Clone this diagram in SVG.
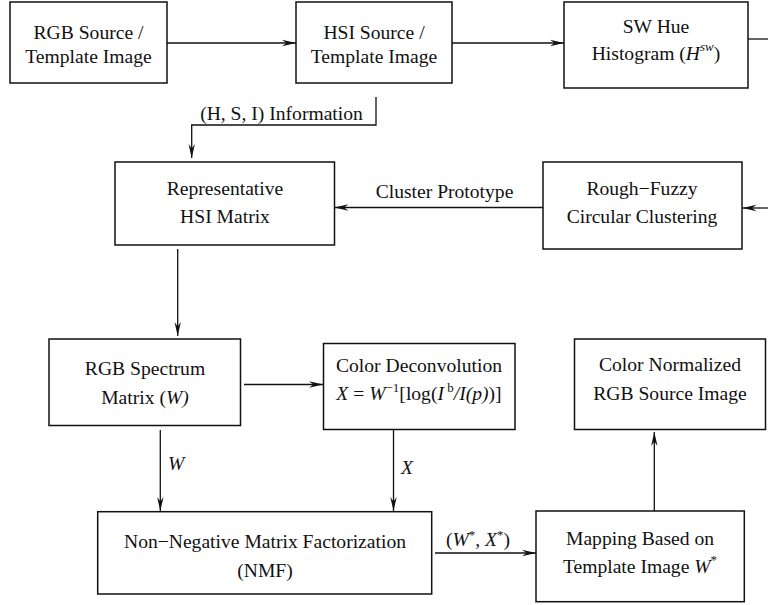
<svg xmlns="http://www.w3.org/2000/svg" width="768" height="605" viewBox="0 0 768 605">
<style>
.box{fill:#fff;stroke:#111;stroke-width:1.5}
.con{fill:none;stroke:#111;stroke-width:1.3}
text{font-family:"Liberation Serif","Times New Roman",serif;font-size:19.6px;fill:#111}
.c{text-anchor:middle}
.i{font-style:italic}
.s{font-size:13px}
</style>
<defs>
<marker id="ah" markerUnits="userSpaceOnUse" viewBox="-14 -4 15 8" markerWidth="15" markerHeight="8" refX="0" refY="0" orient="auto">
<path d="M0,0 L-14,-3.2 L-9.5,0 L-14,3.2 Z" fill="#111"/>
</marker>
</defs>
<rect width="768" height="605" fill="#fff"/>
<g id="connectors">
<path class="con" d="M167,43 H296" marker-end="url(#ah)"/>
<path class="con" d="M452,43 H564" marker-end="url(#ah)"/>
<path class="con" d="M748,39 H768"/>
<path class="con" d="M768,208 H742.5" marker-end="url(#ah)"/>
<path class="con" d="M543,207.5 H334.5" marker-end="url(#ah)"/>
<path class="con" d="M376,97 V125 H191.7 V158" marker-end="url(#ah)"/>
<path class="con" d="M177.7,249 V336" marker-end="url(#ah)"/>
<path class="con" d="M244,384.5 H323" marker-end="url(#ah)"/>
<path class="con" d="M160.3,430 V511" marker-end="url(#ah)"/>
<path class="con" d="M393.5,430 V511" marker-end="url(#ah)"/>
<path class="con" d="M435,553 H536" marker-end="url(#ah)"/>
<path class="con" d="M654.3,511 V432" marker-end="url(#ah)"/>
<text class="c" x="281.5" y="120">(H, S, I) Information</text>
<text class="c" x="444.5" y="198">Cluster Prototype</text>
<text class="i" x="168" y="470">W</text>
<text class="i" x="401" y="474">X</text>
<text class="c" x="478" y="546">(<tspan class="i">W</tspan><tspan class="s" dy="-7">*</tspan><tspan dy="7">, </tspan><tspan class="i">X</tspan><tspan class="s" dy="-7">*</tspan><tspan dy="7">)</tspan></text>
</g>
<g id="rgb-source">
<rect class="box" x="10" y="2" width="157" height="81"/>
<text class="c" x="88.5" y="39">RGB Source /</text>
<text class="c" x="88.5" y="63">Template Image</text>
</g>
<g id="hsi-source">
<rect class="box" x="296" y="2" width="156" height="81"/>
<text class="c" x="374" y="39">HSI Source /</text>
<text class="c" x="374" y="63">Template Image</text>
</g>
<g id="sw-hue">
<rect class="box" x="564" y="2" width="184" height="86"/>
<text class="c" x="656" y="33">SW Hue</text>
<text class="c" x="656" y="60">Histogram (<tspan class="i">H</tspan><tspan class="i s" dy="-9">sw</tspan><tspan dy="9">)</tspan></text>
</g>
<g id="representative">
<rect class="box" x="115" y="162" width="219.5" height="83"/>
<text class="c" x="225" y="195">Representative</text>
<text class="c" x="225" y="223">HSI Matrix</text>
</g>
<g id="rough-fuzzy">
<rect class="box" x="543" y="162" width="199" height="87"/>
<text class="c" x="642" y="195">Rough−Fuzzy</text>
<text class="c" x="642" y="223">Circular Clustering</text>
</g>
<g id="rgb-spectrum">
<rect class="box" x="49" y="339" width="191.5" height="86.5"/>
<text class="c" x="145" y="375">RGB Spectrum</text>
<text class="c" x="145" y="404">Matrix (<tspan class="i">W)</tspan></text>
</g>
<g id="color-deconvolution">
<rect class="box" x="323.5" y="343.5" width="191.5" height="86"/>
<text class="c" x="419" y="372">Color Deconvolution</text>
<text class="c" x="419" y="400"><tspan class="i">X</tspan> = <tspan class="i">W</tspan><tspan class="s" dy="-8">−1</tspan><tspan dy="8">[log(</tspan><tspan class="i">I</tspan><tspan class="s" dy="-8"> b</tspan><tspan class="i" dy="8">/I(p)</tspan>)]</text>
</g>
<g id="color-normalized">
<rect class="box" x="574.5" y="339" width="191" height="90.5"/>
<text class="c" x="670" y="371">Color Normalized</text>
<text class="c" x="670" y="400">RGB Source Image</text>
</g>
<g id="nmf">
<rect class="box" x="97.7" y="511.7" width="334" height="82.3"/>
<text class="c" x="265" y="548">Non−Negative Matrix Factorization</text>
<text class="c" x="265" y="577">(NMF)</text>
</g>
<g id="mapping">
<rect class="box" x="536" y="511" width="208.3" height="90.7"/>
<text class="c" x="640" y="545">Mapping Based on</text>
<text class="c" x="640" y="573">Template Image <tspan class="i">W</tspan><tspan class="s" dy="-9">*</tspan></text>
</g>
</svg>
